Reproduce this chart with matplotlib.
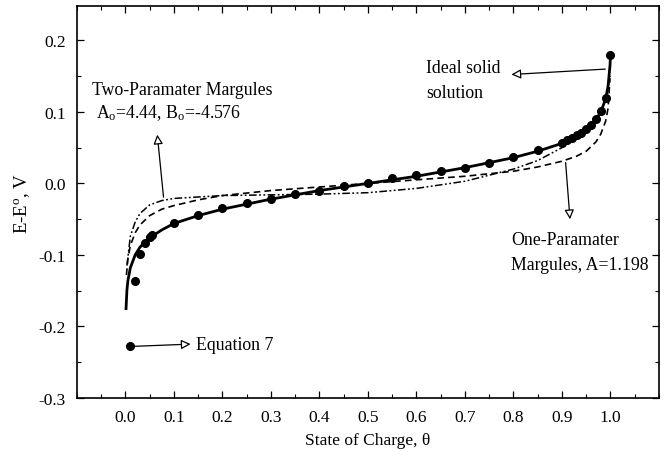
import numpy as np
import matplotlib
matplotlib.use("Agg")
import matplotlib.pyplot as plt
from matplotlib.ticker import MultipleLocator, FormatStrFormatter

plt.rcParams['font.family'] = ['Liberation Serif', 'DejaVu Serif']
plt.rcParams['mathtext.fontset'] = 'custom'
plt.rcParams['mathtext.rm'] = 'Liberation Serif'
plt.rcParams['mathtext.it'] = 'Liberation Serif'
plt.rcParams['axes.unicode_minus'] = False

# ideal solid solution curve
ideal_theta = [0.001, 0.003, 0.005, 0.01, 0.02, 0.03, 0.05, 0.075, 0.1, 0.15, 0.2,
               0.3, 0.4, 0.5, 0.6, 0.7, 0.8, 0.85, 0.9, 0.925, 0.95, 0.97, 0.98,
               0.99, 0.995, 0.999, 1.0]
ideal_E = [-0.177, -0.149, -0.136, -0.118, -0.100, -0.089, -0.076, -0.065, -0.056,
           -0.045, -0.036, -0.022, -0.010, 0.000, 0.010, 0.022, 0.036, 0.045, 0.056,
           0.065, 0.076, 0.089, 0.100, 0.118, 0.136, 0.165, 0.179]

# one-parameter Margules, A = 1.198
one_theta = [0.002, 0.005, 0.01, 0.02, 0.03, 0.05, 0.075, 0.1, 0.15, 0.2, 0.3, 0.4,
             0.5, 0.6, 0.7, 0.8, 0.85, 0.9, 0.93, 0.95, 0.97, 0.98, 0.99, 0.995, 0.999]
one_E = [-0.128, -0.105, -0.087, -0.069, -0.058, -0.045, -0.036, -0.031, -0.023,
         -0.017, -0.010, -0.005, 0.000, 0.005, 0.010, 0.017, 0.023, 0.031, 0.038,
         0.045, 0.058, 0.069, 0.087, 0.105, 0.147]

# two-parameter Margules, Ao = 4.44, Bo = -4.576
two_theta = [0.003, 0.01, 0.02, 0.03, 0.05, 0.075, 0.1, 0.15, 0.2, 0.3, 0.4, 0.5,
             0.6, 0.7, 0.8, 0.85, 0.9, 0.95, 0.97, 0.98, 0.99, 0.995, 0.999]
two_E = [-0.115, -0.074, -0.054, -0.042, -0.030, -0.024, -0.021, -0.019, -0.017,
         -0.016, -0.015, -0.013, -0.007, 0.003, 0.020, 0.032, 0.050, 0.072, 0.087,
         0.099, 0.118, 0.133, 0.150]

# Equation 7 points
eq7_theta = [0.02, 0.03, 0.04, 0.05, 0.055, 0.1, 0.15, 0.2, 0.25, 0.3, 0.35, 0.4,
             0.45, 0.5, 0.55, 0.6, 0.65, 0.7, 0.75, 0.8, 0.85, 0.9, 0.91, 0.92,
             0.93, 0.94, 0.95, 0.96, 0.97, 0.98, 0.99, 0.999]
eq7_E = [-0.136, -0.099, -0.083, -0.075, -0.072, -0.056, -0.044, -0.035, -0.028,
         -0.022, -0.015, -0.010, -0.004, 0.001, 0.007, 0.012, 0.017, 0.022, 0.029,
         0.037, 0.046, 0.057, 0.060, 0.063, 0.067, 0.071, 0.076, 0.082, 0.090,
         0.101, 0.119, 0.179]

xticks = [0.0, 0.1, 0.2, 0.3, 0.4, 0.5, 0.6, 0.7, 0.8, 0.9, 1.0]
yticks = [-0.3, -0.2, -0.1, 0.0, 0.1, 0.2]

fs = 12.8

fig = plt.figure(figsize=(6.67, 4.6), dpi=100)
ax = fig.add_axes([0.1154, 0.1326, 0.8726, 0.8522])

ax.plot(ideal_theta, ideal_E, color='black', lw=2.0, solid_capstyle='butt')
ax.plot(one_theta, one_E, color='black', lw=1.2, linestyle=(0, (4, 2.5)))
ax.plot(two_theta, two_E, color='black', lw=1.1,
        linestyle=(0, (5, 1.6, 1.2, 1.6, 1.2, 1.6)))
ax.plot(eq7_theta, eq7_E, 'o', color='black', ms=5.5)

ax.set_xlim(-0.1, 1.1)
ax.set_ylim(-0.3, 0.248)
ax.set_xticks(xticks)
ax.set_yticks(yticks)
ax.xaxis.set_minor_locator(MultipleLocator(0.05))
ax.yaxis.set_minor_locator(MultipleLocator(0.05))
ax.xaxis.set_major_formatter(FormatStrFormatter('%.1f'))
ax.yaxis.set_major_formatter(FormatStrFormatter('%.1f'))
ax.tick_params(which='both', direction='in', top=True, right=True, labelsize=12.5)
ax.tick_params(which='major', length=5, width=0.9, pad=8)
ax.tick_params(which='minor', length=3, width=0.8)
for s in ax.spines.values():
    s.set_linewidth(1.2)

ax.set_xlabel('State of Charge, θ', fontsize=12.5, labelpad=5)
ax.set_ylabel('E-E$^{\\rm o}$, V', fontsize=13.5, labelpad=5)

arrow = dict(arrowstyle='-|>', fc='white', ec='black', lw=0.9, mutation_scale=14)

# Two-parameter Margules label
ax.text(-0.068, 0.131, 'Two-Paramater Margules', fontsize=fs, va='center')
ax.text(-0.06, 0.0995, 'A$_{\\rm o}$=4.44, B$_{\\rm o}$=-4.576', fontsize=fs,
        va='center')
ax.annotate('', xy=(0.065, 0.072), xytext=(0.079, -0.023), arrowprops=arrow)

# ideal solid solution
ax.text(0.62, 0.162, 'Ideal solid', fontsize=fs, va='center')
ax.text(0.62, 0.127, 'solution', fontsize=fs, va='center')
ax.annotate('', xy=(0.79, 0.152), xytext=(0.995, 0.160), arrowprops=arrow)

# one-parameter Margules
ax.annotate('', xy=(0.917, -0.054), xytext=(0.907, 0.033), arrowprops=arrow)
ax.text(0.795, -0.078, 'One-Paramater', fontsize=fs, va='center')
ax.text(0.795, -0.113, 'Margules, A=1.198', fontsize=fs, va='center')

# Equation 7 legend
ax.plot([0.009], [-0.228], 'o', color='black', ms=5.5)
ax.annotate('', xy=(0.14, -0.2245), xytext=(0.009, -0.228), arrowprops=arrow)
ax.text(0.145, -0.225, 'Equation 7', fontsize=fs, va='center')

fig.savefig('out.png', dpi=100)
